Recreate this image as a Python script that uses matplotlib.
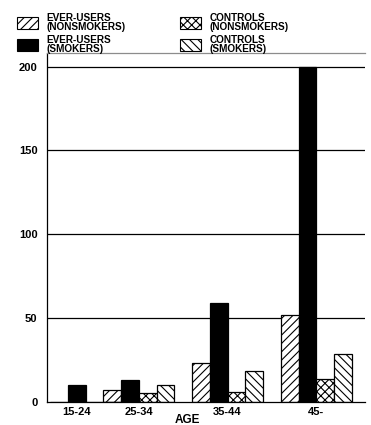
import matplotlib
matplotlib.use("Agg")
import matplotlib.pyplot as plt
from matplotlib.patches import Patch

age_groups = ["15-24", "25-34", "35-44", "45-"]
series_names = [
    "EVER-USERS\n(NONSMOKERS)",
    "EVER-USERS\n(SMOKERS)",
    "CONTROLS\n(NONSMOKERS)",
    "CONTROLS\n(SMOKERS)",
]
ever_nonsmokers = [0, 7, 23, 52]
ever_smokers = [10, 13, 59, 200]
controls_nonsmokers = [0, 5.5, 6, 14]
controls_smokers = [0, 10, 18.5, 28.5]
y_ticks = [0, 50, 100, 150, 200]

# group layout (in bar widths)
group_starts = [0, 3, 8, 13]
label_pos = [1.5, 5, 10, 15]

plt.rcParams["font.family"] = ["Liberation Sans", "DejaVu Sans"]
plt.rcParams["font.weight"] = "bold"
plt.rcParams["hatch.linewidth"] = 0.8

styles = [
    dict(facecolor="white", hatch="////"),
    dict(facecolor="black", hatch=None),
    dict(facecolor="white", hatch="xxxx"),
    dict(facecolor="white", hatch="\\\\\\\\"),
]
all_series = [ever_nonsmokers, ever_smokers, controls_nonsmokers, controls_smokers]

fig = plt.figure(figsize=(3.71, 4.25), dpi=100)
ax = fig.add_axes([0.127, 0.054, 0.857, 0.821])

for yv in y_ticks[1:]:
    ax.axhline(yv, color="black", linewidth=0.9, zorder=1)

for i, (vals, st) in enumerate(zip(all_series, styles)):
    xs = [g + i for g in group_starts]
    ax.bar(xs, vals, width=1.0, align="edge", edgecolor="black",
           linewidth=0.9, zorder=2, **st)

ax.set_xlim(-0.17, 17.75)
ax.set_ylim(0, 208)
ax.set_yticks(y_ticks)
ax.set_xticks(label_pos)
ax.set_xticklabels(age_groups, fontsize=8, fontweight="bold")
ax.set_yticklabels([str(v) for v in y_ticks], fontsize=8, fontweight="bold")
ax.tick_params(axis="both", length=0)
ax.tick_params(axis="y", pad=7)
ax.tick_params(axis="x", pad=3.5)
ax.set_xlabel("AGE", fontsize=8.5, fontweight="bold")
ax.xaxis.set_label_coords(0.44, -0.035)

ax.spines["right"].set_visible(False)
ax.spines["top"].set_color("0.55")
ax.spines["left"].set_linewidth(0.9)
ax.spines["bottom"].set_linewidth(0.9)
ax.spines["top"].set_linewidth(0.9)

handles = [Patch(edgecolor="black", linewidth=0.8, **st) for st in styles]
leg = fig.legend(handles, series_names, loc="upper left",
                 bbox_to_anchor=(0.045, 0.970), borderpad=0, borderaxespad=0,
                 ncol=2, frameon=False, handlelength=2.1, handleheight=1.5,
                 labelspacing=0.32, columnspacing=5.4, handletextpad=0.9,
                 prop={"weight": "bold", "size": 7.2})
for t in leg.get_texts():
    t.set_linespacing(0.85)

fig.savefig("out.png", dpi=100)
